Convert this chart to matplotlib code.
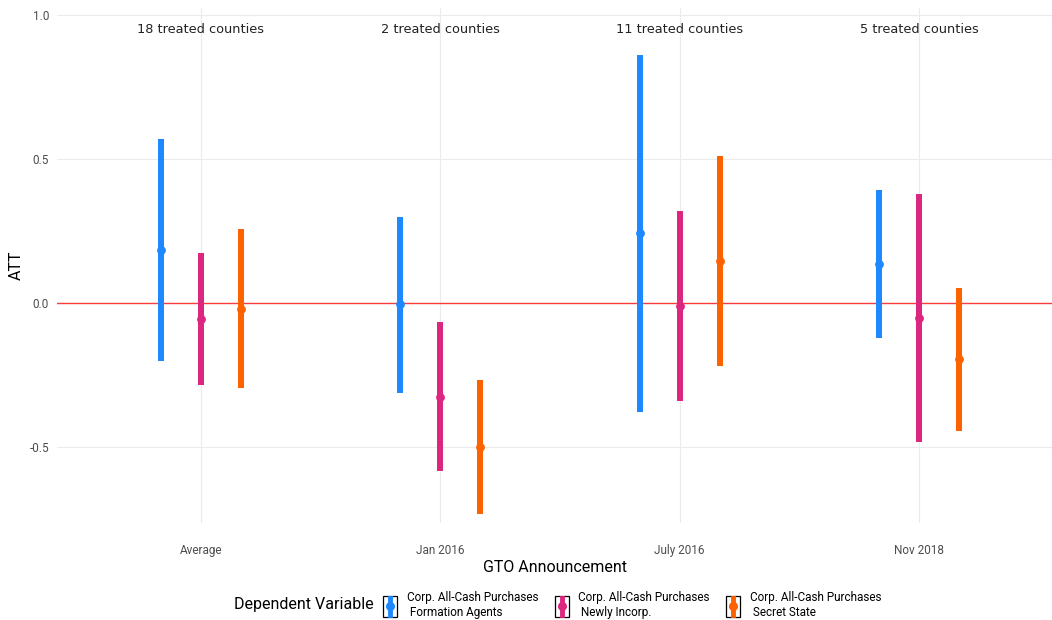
import numpy as np
import matplotlib
matplotlib.use("Agg")
import matplotlib.pyplot as plt
from matplotlib.legend_handler import HandlerBase
from matplotlib.patches import Rectangle
from matplotlib.lines import Line2D

# data
periods = ["Average", "Jan 2016", "July 2016", "Nov 2018"]
counts = ["18 treated counties", "2 treated counties", "11 treated counties", "5 treated counties"]
series = ["Corp. All-Cash Purchases\n Formation Agents",
          "Corp. All-Cash Purchases\n Newly Incorp.",
          "Corp. All-Cash Purchases\n Secret State"]
colors = ["#1E88FF", "#DC267F", "#FE6100"]

att_agents = [0.184, -0.005, 0.242, 0.134]
lo_agents = [-0.201, -0.311, -0.380, -0.122]
hi_agents = [0.569, 0.300, 0.861, 0.392]

att_newly = [-0.056, -0.325, -0.009, -0.051]
lo_newly = [-0.285, -0.583, -0.339, -0.482]
hi_newly = [0.175, -0.067, 0.321, 0.378]

att_secret = [-0.020, -0.499, 0.147, -0.196]
lo_secret = [-0.295, -0.733, -0.219, -0.444]
hi_secret = [0.256, -0.267, 0.511, 0.053]

cond = ["Roboto", "DejaVu Sans"]

fig = plt.figure(figsize=(10.52, 6.2), dpi=100)
ax = fig.add_axes([0.0545, 0.156, 0.9455, 0.8314])

x = np.arange(1, len(periods) + 1)
dodge = 0.167
all_series = [(att_agents, lo_agents, hi_agents),
              (att_newly, lo_newly, hi_newly),
              (att_secret, lo_secret, hi_secret)]

ax.axhline(0, color="red", lw=1, alpha=0.75, zorder=1)

for i, (att, lo, hi) in enumerate(all_series):
    xs = x + (i - 1) * dodge
    ax.vlines(xs, lo, hi, color=colors[i], lw=4.3, zorder=3)
    ax.scatter(xs, att, s=40, color=colors[i], zorder=4, linewidths=0)

for xi, txt in zip(x, counts):
    ax.text(xi, 0.95, txt, ha="center", va="center", fontsize=9.3,
            family="DejaVu Sans", color="#222222")

ax.set_xlim(0.4, 4.555)
ax.set_ylim(-0.765, 1.025)
ax.set_xticks(x)
ax.set_xticklabels(periods, family=cond, fontsize=8.5, color="#4D4D4D")
ax.set_yticks([-0.5, 0.0, 0.5, 1.0])
ax.set_yticklabels(["-0.5", "0.0", "0.5", "1.0"], family=cond, fontsize=8.5, color="#4D4D4D")
ax.tick_params(axis="x", length=0, pad=15)
ax.tick_params(axis="y", length=0, pad=6)
ax.grid(True, color="#EBEBEB", lw=0.8)
ax.set_axisbelow(True)
for s in ax.spines.values():
    s.set_visible(False)

ax.set_ylabel("ATT", family=cond, fontsize=11.5, labelpad=4)
ax.set_xlabel("GTO Announcement", family=cond, fontsize=11.5, labelpad=2)


class KeyHandler(HandlerBase):
    # boxed pointrange key, as in the ggplot legend
    def create_artists(self, legend, orig_handle, xdescent, ydescent,
                       width, height, fontsize, trans):
        c = orig_handle.get_color()
        x0, y0 = -xdescent, -ydescent
        box = Rectangle((x0, y0), width, height, fill=False, ec="black",
                        lw=0.9, transform=trans)
        cx = x0 + width / 2
        line = Line2D([cx, cx], [y0 + 0.08 * height, y0 + 0.92 * height],
                      color=c, lw=3.5, transform=trans)
        dot = Line2D([cx], [y0 + height / 2], marker="o", ms=5.5,
                     color=c, transform=trans)
        return [box, line, dot]


fig.text(0.222, 0.025, "Dependent Variable", family=cond, fontsize=11.5,
         va="center", ha="left")

handles = [Line2D([], [], color=c) for c in colors]
leg = fig.legend(handles, series, handler_map={Line2D: KeyHandler()},
                 loc="center left", bbox_to_anchor=(0.364, 0.024), ncol=3,
                 frameon=False, handlelength=1.2, handleheight=2.4,
                 handletextpad=0.8, columnspacing=1.4, borderpad=0,
                 borderaxespad=0, prop={"family": cond, "size": 8.5})

fig.savefig("out.png", dpi=100)
